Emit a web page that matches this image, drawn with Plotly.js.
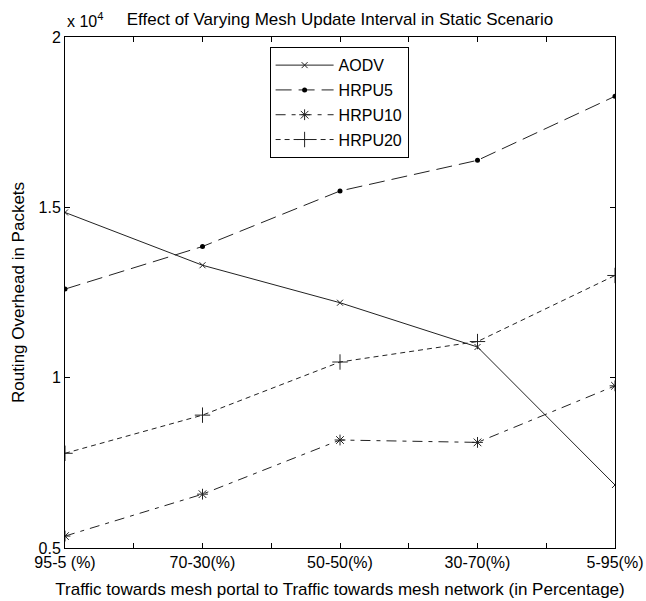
<!DOCTYPE html>
<html>
<head>
<meta charset="utf-8">
<script src="https://cdn.plot.ly/plotly-3.0.1.min.js"></script>
<style>html,body{margin:0;padding:0;background:#fff;}#chart{width:646px;height:601px;}</style>
</head>
<body>
<div id="chart"></div>
<script>
// ---- data ----
const categories = ["95-5 (%)", "70-30(%)", "50-50(%)", "30-70(%)", "5-95(%)"];
const aodv   = [14850, 13300, 12200, 10900, 6850];
const hrpu5  = [12600, 13850, 15480, 16380, 18260];
const hrpu10 = [5350, 6580, 8170, 8100, 9760];
const hrpu20 = [7780, 8900, 10460, 11060, 13000];
const yTickVals = [5000, 10000, 15000, 20000];
const yTickText = ["0.5", "1", "1.5", "2"];

const xPos = categories.map((c, i) => i + 1);
// tick marks at categories and halfway between them (labels only at categories)
const xTickVals = [], xTickText = [];
categories.forEach((c, i) => {
  xTickVals.push(i + 1); xTickText.push(c);
  if (i < categories.length - 1) { xTickVals.push(i + 1.5); xTickText.push(""); }
});

const FONT = "Liberation Sans, Arial, sans-serif";
const lineCol = "#222";
const TICK = 16, LAB = 17;

const traces = [
  {name: "AODV", legendgroup: "a", x: xPos, y: aodv, mode: "lines+markers",
   line: {color: lineCol, width: 1, dash: "solid"},
   marker: {symbol: "x-thin-open", size: 6, color: lineCol, line: {width: 1, color: lineCol}}},
  {name: "HRPU5", legendgroup: "b", x: xPos, y: hrpu5, mode: "lines+markers",
   line: {color: lineCol, width: 1, dash: "16px,7px"},
   marker: {symbol: "circle", size: 5, color: "#000"}},
  {name: "HRPU10", legendgroup: "c", x: xPos, y: hrpu10, mode: "lines+markers",
   line: {color: lineCol, width: 1, dash: "10px,6px,4px,6px"},
   marker: {symbol: "asterisk-open", size: 9, color: lineCol, line: {width: 1, color: lineCol}}},
  {name: "HRPU20", legendgroup: "d", x: xPos, y: hrpu20, mode: "lines+markers",
   line: {color: lineCol, width: 1, dash: "5px,4px"},
   marker: {symbol: "cross-thin-open", size: 11, color: lineCol, line: {width: 1, color: lineCol}}}
];

const layout = {
  width: 646, height: 601,
  paper_bgcolor: "#fff", plot_bgcolor: "#fff",
  margin: {l: 65, r: 31, t: 37, b: 53},
  font: {family: FONT, size: TICK, color: "#000"},
  showlegend: true,
  title: {text: "Effect of Varying Mesh Update Interval in Static Scenario",
          font: {family: FONT, size: LAB, color: "#000"},
          xref: "paper", x: 0.5, xanchor: "center", y: 0.978, yanchor: "top"},
  xaxis: {
    range: [1, 5], tickmode: "array", tickvals: xTickVals, ticktext: xTickText,
    ticks: "inside", ticklen: 5, tickcolor: "#000", tickwidth: 1,
    showline: true, linecolor: "#000", linewidth: 1, mirror: "ticks",
    showgrid: false, zeroline: false,
    tickfont: {family: FONT, size: TICK, color: "#000"},
    title: {text: "Traffic towards mesh portal to Traffic towards mesh network (in Percentage)",
            font: {family: FONT, size: LAB, color: "#000"}, standoff: 12}
  },
  yaxis: {
    range: [5000, 20000], tickmode: "array", tickvals: yTickVals, ticktext: yTickText,
    ticks: "inside", ticklen: 5, tickcolor: "#000", tickwidth: 1,
    showline: true, linecolor: "#000", linewidth: 1, mirror: "ticks",
    showgrid: false, zeroline: false,
    tickfont: {family: FONT, size: TICK, color: "#000"},
    title: {text: "Routing Overhead in Packets",
            font: {family: FONT, size: LAB, color: "#000"}, standoff: 9}
  },
  legend: {
    x: 0.372, y: 0.98, xanchor: "left", yanchor: "top",
    bgcolor: "#fff", bordercolor: "#000", borderwidth: 1,
    font: {family: FONT, size: TICK, color: "#000"},
    tracegroupgap: 1, itemwidth: 58
  },
  annotations: [{
    text: "x 10<sup>4</sup>", xref: "paper", yref: "paper", x: 0, y: 1.01,
    xanchor: "left", yanchor: "bottom", showarrow: false,
    font: {family: FONT, size: TICK, color: "#000"}
  }]
};

Plotly.newPlot("chart", traces, layout, {staticPlot: true, displayModeBar: false});
</script>
</body>
</html>
